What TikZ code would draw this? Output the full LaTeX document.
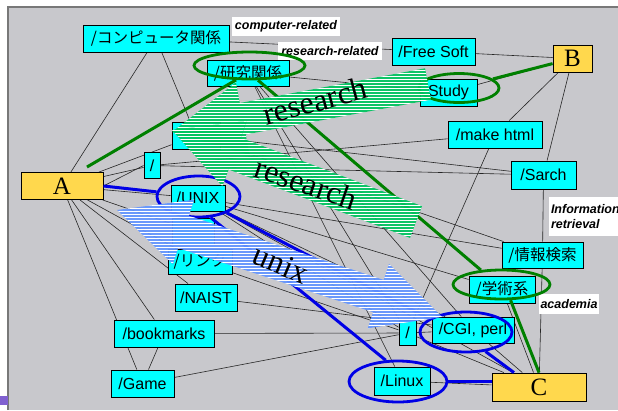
\documentclass[tikz,border=0pt]{standalone}
\usepackage{fontspec}
\setmainfont{Liberation Serif}
\newfontfamily\sansf{Liberation Sans}
\newfontfamily\cjkf{Noto Sans CJK JP}
\usetikzlibrary{calc,shapes.geometric,patterns}
\definecolor{panelgray}{RGB}{200,200,204}
\definecolor{panelline}{RGB}{120,120,120}
\definecolor{boxcyan}{RGB}{0,255,255}
\definecolor{boxyellow}{RGB}{255,216,77}
\definecolor{arrgreen}{RGB}{0,196,96}
\definecolor{arrblue}{RGB}{100,150,255}
\definecolor{ringgreen}{RGB}{0,128,0}
\definecolor{ringblue}{RGB}{0,0,230}
\definecolor{slidepurple}{RGB}{128,96,208}
\pgfdeclarelayer{bg}
\pgfdeclarelayer{edges}
\pgfsetlayers{bg,edges,main}
\begin{document}
\begin{tikzpicture}[x=1pt,y=-1pt,
  box/.style={draw=black, line width=0.9pt, fill=boxcyan, inner sep=0pt,
    minimum height=27pt, font=\sansf\fontsize{16}{16}\selectfont},
  jbox/.style={box, font=\cjkf\fontsize{15.5}{15.5}\selectfont},
  ybox/.style={draw=black, line width=0.9pt, fill=boxyellow, inner sep=0pt,
    minimum height=27pt, font=\fontsize{25}{25}\selectfont},
  lbl/.style={fill=white, inner sep=1pt,
    font=\sansf\bfseries\itshape\fontsize{12.5}{14.5}\selectfont},
  edge/.style={draw=black!85, line width=0.6pt},
  ring/.style={draw, ellipse, line width=2.8pt, inner sep=0pt, fill=none},
  gline/.style={draw=ringgreen, line width=3pt},
  bline/.style={draw=ringblue, line width=3pt},
  arrtext/.style={font=\fontsize{32}{32}\selectfont, inner sep=0pt},
  hatch/.style={pattern=horizontal lines, pattern color=white, fill opacity=0.6},
  fatarrow/.style n args={5}{insert path={($(#1)!#4!90:(#2)$) -- ($(#3)!#4!90:(#2)$)
     -- ($(#3)!#5!90:(#2)$) -- (#2) -- ($(#3)!#5!-90:(#2)$) -- ($(#3)!#4!-90:(#2)$)
     -- ($(#1)!#4!-90:(#2)$) -- cycle}},
  dblarrow/.style n args={6}{insert path={(#2) -- ($(#3)!#6!90:(#2)$) -- ($(#3)!#5!90:(#2)$)
     -- ($(#4)!#5!90:(#2)$) -- ($(#4)!#6!90:(#2)$) -- (#1) -- ($(#4)!#6!-90:(#2)$)
     -- ($(#4)!#5!-90:(#2)$) -- ($(#3)!#5!-90:(#2)$) -- ($(#3)!#6!-90:(#2)$) -- cycle}}
]
\useasboundingbox (0,0) rectangle (618,410);
\begin{pgfonlayer}{bg}
  \fill[white] (0,0) rectangle (618,410);
  \fill[panelgray] (8,7) rectangle (618,410);
  \draw[panelline, line width=1.5pt] (8,410) -- (8,7) -- (618,7);
  \fill[slidepurple] (0,396) rectangle (8,405);
\end{pgfonlayer}

% nodes
\node[jbox, minimum width=146pt] (komp) at (156,38.5) {/コンピュータ関係};
\node[jbox, minimum width=82pt, minimum height=26pt] (kenkyu) at (248,73) {/研究関係};
\node[box, minimum width=83pt] (freesoft) at (433.5,51.5) {/Free Soft};
\node[ybox, minimum width=39pt] (B) at (572.5,58.5) {B};
\node[box, minimum width=57pt] (study) at (448.5,92.5) {Study};
\node[box, minimum width=94pt] (makehtml) at (495,134.5) {/make html};
\node[box, minimum width=65pt, minimum height=28pt] (sarch) at (543.5,175) {/Sarch};
\node[ybox, minimum width=82pt] (A) at (62,186) {A};
\node[box, minimum width=16pt, minimum height=26pt] (slash1) at (152,165.5) {/};
\node[box, minimum width=48pt] (hidden1) at (196,135.5) {};
\node[box, minimum width=54pt, minimum height=26pt] (unix) at (198,198) {/UNIX};
\node[box, minimum width=42pt, minimum height=26pt] (hidden2) at (193,231) {};
\node[jbox, minimum width=64pt, minimum height=25pt] (link) at (200,261.5) {/リンク};
\node[box, minimum width=62pt] (naist) at (206,297.5) {/NAIST};
\node[box, minimum width=100pt] (bookmarks) at (164,333.5) {/bookmarks};
\node[box, minimum width=63pt] (game) at (142.5,383.5) {/Game};
\node[box, minimum width=17pt, minimum height=25pt] (slash2) at (407.5,333) {/};
\node[box, minimum width=82pt, minimum height=26pt] (cgi) at (473,330) {/CGI, perl};
\node[jbox, minimum width=81pt, minimum height=26pt] (jouhou) at (542.5,255) {/情報検索};
\node[jbox, minimum width=66pt] (gakujutsu) at (502,289.5) {/学術系};
\node[box, minimum width=56pt, minimum height=28pt] (linux) at (402,381) {/Linux};
\node[ybox, minimum width=94pt, minimum height=28pt] (C) at (539,387) {C};

% thin edges
\begin{pgfonlayer}{edges}
\draw[edge] (A) -- (komp);
\draw[edge] (A) -- (hidden1);
\draw[edge] (A) -- (slash1);
\draw[edge] (A.east) -- (slash1.west);
\draw[edge] (A) -- (unix);
\draw[edge] (A) -- (hidden2);
\draw[edge] (A) -- (link);
\draw[edge] (A) -- (naist);
\draw[edge] (A) -- (bookmarks);
\draw[edge] (A) -- (game);
\draw[edge] (komp) -- (hidden1);
\draw[edge] (komp) -- (freesoft);
\draw[edge] (kenkyu) -- (study);
\draw[edge] (kenkyu) -- (slash2);
\draw[edge] (kenkyu) -- (cgi);
\draw[edge] (kenkyu) -- (linux);
\draw[edge] (freesoft) -- (B);
\draw[edge] (B) -- (makehtml);
\draw[edge] (B) -- (sarch);
\draw[edge] (study) -- (B);
\draw[edge] (slash1) -- (makehtml);
\draw[edge] (slash1) -- (sarch);
\draw[edge] (hidden1) -- (sarch);
\draw[edge] (hidden1) -- (jouhou);
\draw[edge] (sarch) -- (jouhou);
\draw[edge] (makehtml) -- (slash2);
\draw[edge] (unix) -- (jouhou);
\draw[edge] (unix) -- (gakujutsu);
\draw[edge] (unix) -- (cgi);
\draw[edge] (unix) -- (slash2);
\draw[edge] (unix) -- (C);
\draw[edge] (link) -- (slash2);
\draw[edge] (naist) -- (cgi);
\draw[edge] (bookmarks) -- (slash2);
\draw[edge] (bookmarks) -- (game);
\draw[edge] (game) -- (slash2);
\draw[edge] (jouhou) -- (C);
\draw[edge] (gakujutsu) -- (C);
\draw[edge] (cgi) -- (C);
\draw[edge] (slash2) -- (C);
\draw[edge] (linux) -- (C);
\draw[edge] (slash2) -- (cgi);
\end{pgfonlayer}

% labels
\node[lbl, minimum width=108pt, minimum height=19pt] (lcomp) at (286,26.5) {computer-related};
\node[lbl, minimum width=104pt, minimum height=18pt] (lres) at (330,51) {research-related};
\node[lbl, minimum width=60pt, minimum height=20pt] (lacad) at (569,304) {academia};
\node[lbl, text width=76pt, align=left, minimum height=39pt, inner sep=2pt] (linfo) at (589,216.5) {Information\\retrieval};

% rings
\node[ring, draw=ringgreen, minimum width=111pt, minimum height=27pt] (eK) at (249.5,65.5) {};
\node[ring, draw=ringgreen, minimum width=80pt, minimum height=29pt] (eS) at (459,88) {};
\node[ring, draw=ringgreen, minimum width=97pt, minimum height=29pt] (eG) at (501.5,284.5) {};
\node[ring, draw=ringblue, minimum width=83pt, minimum height=41pt] (eU) at (198.5,196.5) {};
\node[ring, draw=ringblue, minimum width=92pt, minimum height=40pt] (eC) at (466,332) {};
\node[ring, draw=ringblue, minimum width=98pt, minimum height=41pt] (eL) at (398,381.5) {};

% thick coloured links
\coordinate (gA) at (87,167);
\draw[gline] (gA) -- (eK.227);
\draw[gline] (eK.300) -- (eG.145);
\draw[gline] (eS.15) -- (B);
\draw[gline] (eG.300) -- (C.north);
\draw[bline] (A.east) -- (eU);
\draw[bline] (eU.330) -- (eC.160);
\draw[bline] (eU.300) -- (eL.120);
\draw[bline] (eC.315) -- (C.150);
\draw[bline] (eL.east) -- (eL.east -| C.west);

% fat arrows
\coordinate (g1t) at (428,84); \coordinate (g1p) at (172,132);
\coordinate (g1b) at ($(g1p)!72pt!(g1t)$);
\coordinate (g2t) at (416,222); \coordinate (g2p) at (172,130);
\coordinate (g2b) at ($(g2p)!67pt!(g2t)$);
\coordinate (u1) at (117,210); \coordinate (u2) at (442,317);
\coordinate (ub2) at ($(u2)!67pt!(u1)$);
\coordinate (ub1) at ($(u1)!70pt!(u2)$);

\fill[arrgreen, fill opacity=0.93] [fatarrow={g1t}{g1p}{g1b}{16pt}{37pt}];
\fill[hatch] [fatarrow={g1t}{g1p}{g1b}{16pt}{37pt}];
\fill[arrgreen, fill opacity=0.93] [fatarrow={g2t}{g2p}{g2b}{17pt}{35pt}];
\fill[hatch] [fatarrow={g2t}{g2p}{g2b}{17pt}{35pt}];
\fill[arrblue, fill opacity=0.93] [dblarrow={u1}{u2}{ub2}{ub1}{17pt}{34pt}];
\fill[hatch] [dblarrow={u1}{u2}{ub2}{ub1}{17pt}{34pt}];

\node[arrtext, rotate=15] (t1) at (315,101) {research};
\node[arrtext, rotate=-19] (t2) at (306,183) {research};
\node[arrtext, rotate=-23] (t3) at (281,264) {unix};
\end{tikzpicture}
\end{document}
